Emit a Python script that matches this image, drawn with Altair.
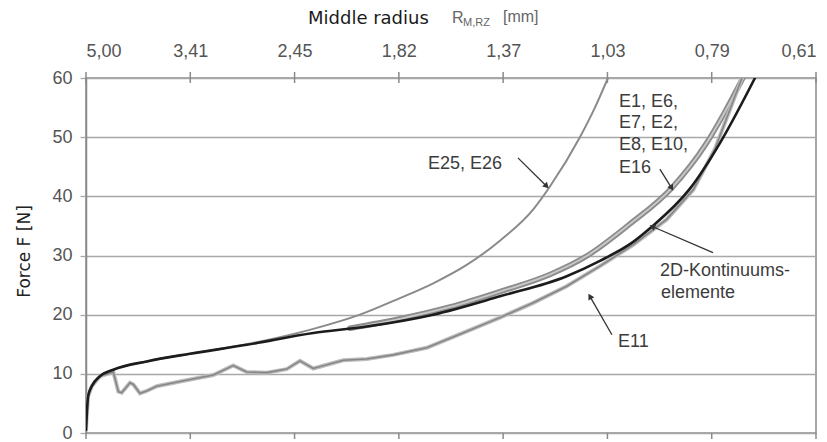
import math
import altair as alt
import pandas as pd

# ---------------- data ----------------
# x is measured in top-axis tick steps (0 = "5,00" ... 7 = "0,61")
X_TICKS = [0, 1, 2, 3, 4, 5, 6, 7]
RADIUS_LABELS = ["5,00", "3,41", "2,45", "1,82", "1,37", "1,03", "0,79", "0,61"]
Y_TICKS = [0, 10, 20, 30, 40, 50, 60]

kont_x = [0.0, 0.005, 0.02, 0.055, 0.134, 0.262, 0.582, 0.997, 1.541, 2.179, 2.691,
          3.330, 3.969, 4.609, 4.928, 5.247, 5.408, 5.791, 6.079, 6.415]
kont_y = [0.5, 2.3, 6.2, 7.9, 9.6, 10.7, 12.1, 13.4, 14.9, 16.9, 18.0,
          20.0, 23.1, 26.5, 29.1, 32.3, 34.6, 41.3, 49.0, 60.0]

e25_x = [0.0, 0.005, 0.02, 0.055, 0.134, 0.262, 0.582, 0.997, 1.541, 1.860, 2.180,
         2.627, 3.011, 3.330, 3.650, 3.969, 4.289, 4.450, 4.736, 4.880, 5.005]
e25_y = [0.5, 2.3, 6.2, 7.9, 9.6, 10.7, 12.1, 13.4, 15.0, 16.2, 17.6,
         20.0, 22.8, 25.3, 28.4, 32.5, 37.8, 41.7, 50.0, 55.0, 60.0]

e1_x = [2.531, 3.011, 3.490, 3.969, 4.449, 4.800, 5.213, 5.616, 5.951, 6.127, 6.299]
e1_y = [17.7, 19.3, 21.3, 23.9, 26.8, 29.9, 35.3, 41.4, 49.0, 54.3, 60.0]

e11_x = [0.0, 0.005, 0.02, 0.055, 0.134, 0.262, 0.310, 0.342, 0.422, 0.454, 0.518,
         0.582, 0.678, 0.901, 1.221, 1.412, 1.541, 1.733, 1.924, 2.052, 2.179,
         2.467, 2.691, 2.946, 3.267, 3.586, 3.969, 4.289, 4.609, 4.928, 5.247,
         5.568, 5.823, 6.031, 6.290]
e11_y = [0.5, 2.3, 6.2, 7.9, 9.6, 10.3, 7.0, 6.8, 8.5, 8.2, 6.7,
         7.1, 7.9, 8.7, 9.8, 11.4, 10.3, 10.2, 10.8, 12.2, 10.9,
         12.3, 12.5, 13.2, 14.4, 16.7, 19.5, 22.0, 24.8, 28.2, 31.8,
         36.1, 41.1, 48.0, 60.0]

note_text = ["E25, E26", "E1, E6,", "E7, E2,", "E8, E10,", "E16",
             "2D-Kontinuums-", "elemente", "E11"]
note_x = [3.279, 5.110, 5.110, 5.110, 5.110, 5.503, 5.513, 5.101]
note_y = [45.4, 56.0, 52.4, 48.7, 44.8, 27.3, 23.7, 15.3]

arrow_x1 = [4.142, 5.503, 6.012, 5.043]
arrow_y1 = [46.5, 44.6, 30.5, 16.6]
arrow_x2 = [4.417, 5.616, 5.430, 4.832]
arrow_y2 = [41.7, 41.4, 34.9, 23.1]

# ---------------- layout ----------------
W, H = 730, 355
PX_X = W / 7.0
PX_Y = H / 60.0

label_expr = "[" + ",".join("'%s'" % s for s in RADIUS_LABELS) + "][datum.value]"

x_axis = alt.Axis(orient="top", values=X_TICKS, labelExpr=label_expr, grid=False,
                  ticks=False, domain=False, labelPadding=18,
                  labelFont="Liberation Sans", labelFontSize=18, labelColor="#555555",
                  title=None)
y_axis = alt.Axis(values=Y_TICKS, grid=True, gridColor="#a8a8a8", gridWidth=1.3,
                  tickSize=6, tickColor="#a8a8a8", tickWidth=1.3,
                  domain=True, domainColor="#888888", domainWidth=1.5,
                  labelFont="Liberation Sans", labelFontSize=18, labelColor="#555555",
                  labelPadding=8,
                  title="Force F [N]", titleFont="DejaVu Sans", titleFontSize=17,
                  titleFontWeight="normal", titleColor="#222222",
                  titleX=-62, titleY=173, titleAngle=270, titleAlign="center",
                  titleBaseline="middle")

xs = alt.Scale(domain=[0, 7], nice=False, zero=False)
ys = alt.Scale(domain=[0, 60], nice=False, zero=False)


def xenc(f):
    return alt.X(f + ":Q", scale=xs, axis=x_axis)


def yenc(f):
    return alt.Y(f + ":Q", scale=ys, axis=y_axis)


def curve(xv, yv, color, width, interp="monotone"):
    df = pd.DataFrame({"x": xv, "y": yv})
    return alt.Chart(df).mark_line(color=color, strokeWidth=width, interpolate=interp,
                                   strokeCap="round", clip=True).encode(
        x=xenc("x"), y=yenc("y"))


layers = []
layers.append(curve(e25_x, e25_y, "#8a8a8a", 2.0))
layers.append(curve(e1_x, e1_y, "#8c8c8c", 5.5))
layers.append(curve(e1_x, e1_y, "#c9c9c9", 1.8))
layers.append(curve(e11_x, e11_y, "#bdbdbd", 4.0, "linear"))
layers.append(curve(e11_x, e11_y, "#868686", 1.6, "linear"))
layers.append(curve(kont_x, kont_y, "#1c1c1c", 2.6))

# axis ticks crossing the top frame and below the bottom frame
tick_df = pd.DataFrame({"x": X_TICKS})
layers.append(alt.Chart(tick_df).mark_rule(color="#8a8a8a", strokeWidth=1.5).encode(
    x=xenc("x"), y=alt.value(-6), y2=alt.value(5)))
layers.append(alt.Chart(tick_df).mark_rule(color="#8a8a8a", strokeWidth=1.5).encode(
    x=xenc("x"), y=alt.value(H), y2=alt.value(H + 6)))

# annotations
note_df = pd.DataFrame({"x": note_x, "y": note_y, "t": note_text})
layers.append(alt.Chart(note_df).mark_text(align="left", baseline="middle",
                                           font="Liberation Sans", fontSize=18,
                                           color="#3c3c3c").encode(
    x=xenc("x"), y=yenc("y"), text="t:N"))

arr_df = pd.DataFrame({"x1": arrow_x1, "y1": arrow_y1, "x2": arrow_x2, "y2": arrow_y2})
layers.append(alt.Chart(arr_df).mark_rule(color="#333333", strokeWidth=1.3).encode(
    x=xenc("x1"), y=yenc("y1"), x2="x2:Q", y2="y2:Q"))

angles = []
for a, b, c, d in zip(arrow_x1, arrow_y1, arrow_x2, arrow_y2):
    dx = (c - a) * PX_X
    dy = -(d - b) * PX_Y
    angles.append(math.degrees(math.atan2(dx, -dy)) % 360)
head_df = pd.DataFrame({"x": arrow_x2, "y": arrow_y2, "angle": angles})
layers.append(alt.Chart(head_df).mark_point(shape="triangle-up", filled=True, size=45,
                                            color="#333333", opacity=1).encode(
    x=xenc("x"), y=yenc("y"), angle=alt.Angle("angle:Q", scale=None)))

# top title: "Middle radius  R_M,RZ [mm]" (single-row source so each is drawn once)
one = pd.DataFrame({"k": [0]})


def title_piece(text, font, size, color, px, py):
    return alt.Chart(one).mark_text(text=text, align="left", baseline="middle",
                                    font=font, fontWeight="normal", fontSize=size,
                                    color=color).encode(x=alt.value(px), y=alt.value(py))


layers.append(title_piece("Middle radius", "DejaVu Sans", 18, "#1a1a1a", 222, -59))
layers.append(title_piece("R", "Liberation Sans", 16, "#666666", 366, -60))
layers.append(title_piece("M,RZ", "Liberation Sans", 11, "#666666", 377, -55))
layers.append(title_piece("[mm]", "Liberation Sans", 16, "#666666", 417, -61))

chart = alt.layer(*layers).properties(
    width=W, height=H,
    autosize=alt.AutoSizeParams(type="none"),
    padding={"left": 78, "top": 70, "right": 3, "bottom": 8},
).configure_view(stroke="#8a8a8a", strokeWidth=1.5)

chart.save("out.html", embed_options={"renderer": "svg", "actions": False})
